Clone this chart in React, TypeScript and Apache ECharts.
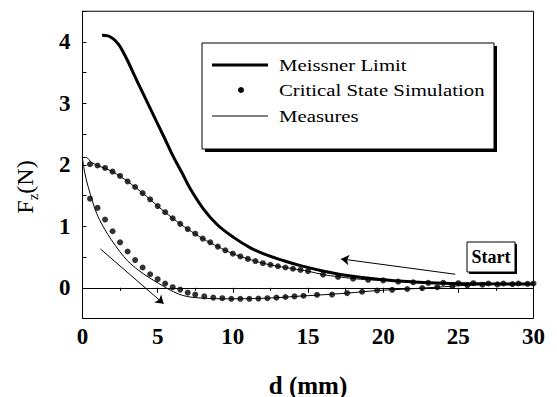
import React, { useEffect, useRef } from "react";
import * as echarts from "echarts";

// ---- data ----
const meissnerD = [1.3, 1.7, 2.05, 2.4, 2.72, 3.05, 3.39, 4.05, 4.72, 5.39, 6.05, 6.6, 7.17, 8.05, 8.95, 10.05, 11.17, 12.28, 13.4, 14.5, 16.05, 17.6, 19.8, 22.05, 24, 27, 30];
const meissnerF = [4.11, 4.1, 4.05, 3.96, 3.83, 3.67, 3.49, 3.15, 2.81, 2.47, 2.13, 1.88, 1.61, 1.28, 1.03, 0.82, 0.65, 0.53, 0.44, 0.36, 0.27, 0.2, 0.135, 0.095, 0.075, 0.065, 0.06];

const critUpperD = [0.5, 1, 1.5, 2, 2.5, 3, 3.5, 4, 4.5, 5, 5.5, 6, 6.5, 7, 7.5, 8, 8.5, 9, 9.5, 10, 10.5, 11, 11.5, 12, 12.5, 13, 13.5, 14, 14.5, 15, 16, 17, 18, 19, 20, 21, 22, 23, 24, 25, 26, 27, 28, 29, 30];
const critUpperF = [2.01, 1.99, 1.95, 1.89, 1.82, 1.73, 1.64, 1.54, 1.44, 1.33, 1.23, 1.13, 1.04, 0.955, 0.88, 0.8, 0.74, 0.67, 0.61, 0.555, 0.51, 0.47, 0.435, 0.4, 0.375, 0.35, 0.33, 0.31, 0.29, 0.27, 0.215, 0.177, 0.148, 0.13, 0.12, 0.1, 0.09, 0.08, 0.08, 0.075, 0.075, 0.07, 0.07, 0.07, 0.07];

const critLowerD = [0.5, 1, 1.5, 2, 2.5, 3, 3.5, 4, 4.5, 5, 5.5, 6, 6.5, 7, 7.5, 8.1, 8.7, 9.3, 9.9, 10.5, 11.1, 11.7, 12.3, 12.9, 13.5, 14.1, 14.7, 15.6, 16.6, 17.6, 18.6, 19.6, 20.6, 21.6, 22.6, 23.6, 24.6, 25.6, 26.6, 27.6, 28.6, 29.6];
const critLowerF = [1.45, 1.3, 1.11, 0.92, 0.74, 0.59, 0.45, 0.33, 0.22, 0.14, 0.07, 0.01, -0.03, -0.08, -0.11, -0.14, -0.16, -0.17, -0.18, -0.18, -0.18, -0.175, -0.17, -0.16, -0.15, -0.14, -0.13, -0.115, -0.11, -0.087, -0.065, -0.044, -0.033, -0.02, -0.005, 0.01, 0.025, 0.04, 0.05, 0.055, 0.06, 0.065];

const measUpperD = [0, 0.25, 0.6, 1, 2, 3, 4, 5, 6, 7, 8, 9, 10, 11, 12, 13, 14, 15, 16, 17, 18, 19, 20, 22, 24, 26, 28, 30];
const measUpperF = [2.12, 2.12, 2.04, 1.99, 1.89, 1.73, 1.54, 1.33, 1.13, 0.955, 0.8, 0.67, 0.555, 0.47, 0.4, 0.35, 0.31, 0.27, 0.215, 0.18, 0.15, 0.13, 0.12, 0.09, 0.075, 0.065, 0.06, 0.06];

const measLowerD = [0, 0.15, 0.37, 0.7, 1.03, 1.48, 1.92, 2.48, 3.03, 3.7, 4.37, 5.03, 5.7, 6.37, 6.92, 7.5, 8.5, 10, 11.5, 13, 14.5, 15.6, 17.6, 19.6, 21.6, 23.6, 25.6, 27.6, 30];
const measLowerF = [2.1, 1.87, 1.65, 1.38, 1.16, 0.95, 0.78, 0.59, 0.43, 0.29, 0.175, 0.077, -0.02, -0.1, -0.14, -0.16, -0.175, -0.18, -0.175, -0.16, -0.135, -0.12, -0.087, -0.045, -0.02, 0.01, 0.04, 0.055, 0.065];

const arrowUpper = [[24.8, 0.22], [17.2, 0.47]];
const arrowLower = [[1.2, 0.63], [5.4, -0.26]];

const xTicks = [0, 5, 10, 15, 20, 25, 30];
const yTicks = [0, 1, 2, 3, 4];

const legendNames = ["Meissner Limit", "Critical State Simulation", "Measures"];
const startLabel = "Start";

const zip = (a: number[], b: number[]) => a.map((v, i) => [v, b[i]]);

const SERIF = "Liberation Serif";

export default function App() {
  const ref = useRef<HTMLDivElement>(null);
  useEffect(() => {
    if (!ref.current) return;
    const chart = echarts.init(ref.current, undefined, { renderer: "svg" });
    const black = "#000";
    const option: any = {
      animation: false,
      backgroundColor: "#fff",
      textStyle: { fontFamily: SERIF },
      grid: {
        left: 82.5,
        right: 23.5,
        top: 11.25,
        bottom: 78.5,
        show: true,
        borderColor: black,
        borderWidth: 1,
        backgroundColor: "transparent",
        containLabel: false,
        outerBoundsMode: "none",
      },
      xAxis: {
        type: "value",
        min: 0,
        max: 30,
        interval: 5,
        axisLine: { show: true, lineStyle: { color: black, width: 1 } },
        axisTick: { show: true, inside: false, length: 5, lineStyle: { color: black } },
        minorTick: { show: true, splitNumber: 2, length: 3, lineStyle: { color: black } },
        splitLine: { show: false },
        axisLabel: {
          color: black,
          fontFamily: SERIF,
          fontWeight: "bold",
          fontSize: 23,
          margin: 6,
          formatter: (v: number) => (xTicks.includes(v) ? String(v) : ""),
        },
        name: "d (mm)",
        nameLocation: "middle",
        nameGap: 54,
        nameTextStyle: { color: black, fontFamily: SERIF, fontWeight: "bold", fontSize: 25 },
      },
      yAxis: {
        type: "value",
        min: -0.5,
        max: 4.5,
        interval: 0.5,
        axisLine: { show: true, lineStyle: { color: black, width: 1 } },
        axisTick: { show: true, inside: true, length: 4, lineStyle: { color: black } },
        splitLine: { show: false },
        axisLabel: {
          color: black,
          fontFamily: SERIF,
          fontWeight: "bold",
          fontSize: 23,
          margin: 12,
          formatter: (v: number) => (yTicks.includes(v) ? String(v) : ""),
        },
      },
      graphic: [
        {
          type: "text",
          x: 25,
          y: 187,
          rotation: Math.PI / 2,
          z: 10,
          style: {
            text: "{a|F}{b|z}{a|(N)}",
            align: "center",
            verticalAlign: "middle",
            fill: black,
            rich: {
              a: { fontSize: 24, fontFamily: SERIF, lineHeight: 30, fill: black },
              b: { fontSize: 15, fontFamily: SERIF, lineHeight: 30, verticalAlign: "bottom", fill: black },
            },
          },
        },
        // legend box
        { type: "rect", z: 10, shape: { x: 205, y: 46, width: 292, height: 106 }, style: { fill: black } },
        { type: "rect", z: 11, shape: { x: 202, y: 43, width: 292, height: 106 }, style: { fill: "#fff", stroke: black, lineWidth: 1 } },
        { type: "line", z: 12, shape: { x1: 212, y1: 65, x2: 268, y2: 65 }, style: { stroke: black, lineWidth: 3 } },
        { type: "circle", z: 12, shape: { cx: 241, cy: 90, r: 3 }, style: { fill: black } },
        { type: "line", z: 12, shape: { x1: 212, y1: 116, x2: 268, y2: 116 }, style: { stroke: black, lineWidth: 1 } },
        ...legendNames.map((n, i) => ({
          type: "text",
          z: 12,
          x: 279,
          y: [65, 90, 116][i],
          scaleX: 1.3,
          style: { text: n, fill: black, font: `16px ${SERIF}`, verticalAlign: "middle", align: "left" },
        })),
        // start box
        { type: "rect", z: 10, shape: { x: 469, y: 244, width: 48, height: 30 }, style: { fill: black } },
        { type: "rect", z: 11, shape: { x: 467, y: 242, width: 48, height: 30 }, style: { fill: "#fff", stroke: black, lineWidth: 1 } },
        {
          type: "text",
          z: 12,
          x: 491,
          y: 257,
          style: { text: startLabel, fill: black, font: `bold 18px ${SERIF}`, align: "center", verticalAlign: "middle" },
        },
      ],
      series: [
        {
          name: legendNames[0],
          type: "line",
          data: zip(meissnerD, meissnerF),
          smooth: 0.4,
          symbol: "none",
          lineStyle: { color: black, width: 3 },
          z: 3,
        },
        {
          name: legendNames[2],
          type: "line",
          data: zip(measUpperD, measUpperF),
          smooth: 0.3,
          symbol: "none",
          lineStyle: { color: black, width: 1 },
          z: 3,
        },
        {
          name: legendNames[2] + " 2",
          type: "line",
          data: zip(measLowerD, measLowerF),
          smooth: 0.3,
          symbol: "none",
          lineStyle: { color: black, width: 1 },
          z: 3,
          markLine: {
            silent: true,
            symbol: ["none", "none"],
            label: { show: false },
            lineStyle: { color: black, width: 1, type: "solid" },
            data: [{ yAxis: 0 }],
          },
        },
        {
          name: legendNames[1],
          type: "scatter",
          data: zip(critUpperD, critUpperF),
          symbol: "circle",
          symbolSize: 6,
          itemStyle: { color: black },
          z: 4,
        },
        {
          name: legendNames[1] + " 2",
          type: "scatter",
          data: zip(critLowerD, critLowerF),
          symbol: "circle",
          symbolSize: 6,
          itemStyle: { color: black },
          z: 4,
        },
        {
          name: "arrows",
          type: "line",
          data: [],
          markLine: {
            silent: true,
            symbol: ["none", "arrow"],
            symbolSize: 8,
            label: { show: false },
            lineStyle: { color: black, width: 1, type: "solid" },
            data: [
              [
                { coord: arrowUpper[0], lineStyle: { curveness: 0.05 } },
                { coord: arrowUpper[1] },
              ],
              [
                { coord: arrowLower[0], lineStyle: { curveness: -0.09 } },
                { coord: arrowLower[1] },
              ],
            ],
          },
        },
      ],
    };
    chart.setOption(option);
    return () => chart.dispose();
  }, []);
  return (
    <div
      ref={ref}
      style={{ position: "fixed", left: 0, top: 0, width: 557, height: 397, background: "#fff" }}
    />
  );
}
